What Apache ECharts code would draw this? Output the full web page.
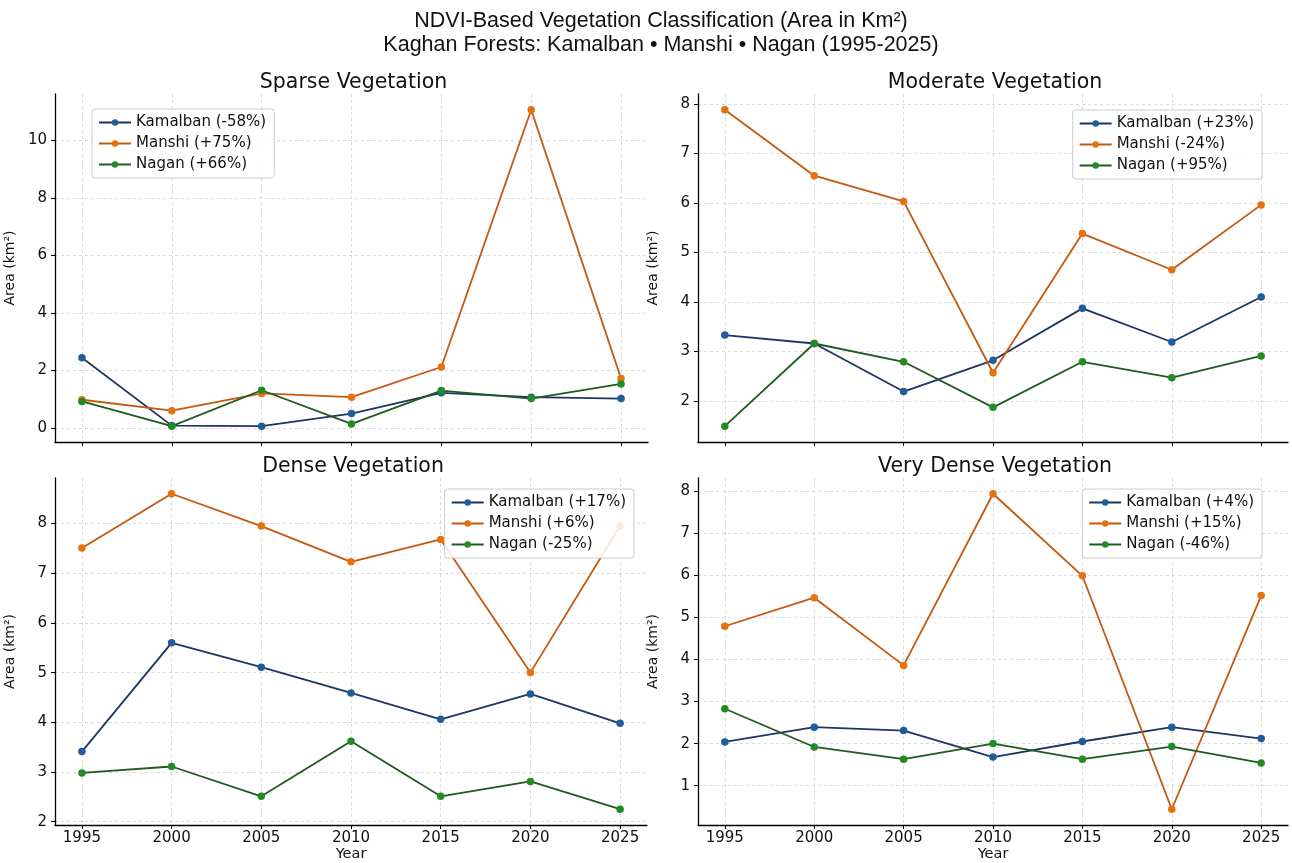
<!DOCTYPE html>
<html lang="en">
<head>
    <meta charset="UTF-8"/>
    <title>NDVI-Based Vegetation Classification</title>
    <script src="https://cdn.jsdelivr.net/npm/echarts@6/dist/echarts.min.js"></script>
    <style>
        body {
            margin: 0;
            background-color: #fff;
        }

        #chart {
            width: 1292px;
            height: 863px;
        }
    </style>
</head>
<body>

<div id="chart"></div>

<script>
    const years = [1995, 2000, 2005, 2010, 2015, 2020, 2025];
    const sites = ['Kamalban', 'Manshi', 'Nagan'];

    // Sparse vegetation (km²)
    const sparseKamalban = [2.44, 0.08, 0.06, 0.50, 1.22, 1.07, 1.02];
    const sparseManshi = [0.98, 0.60, 1.20, 1.07, 2.12, 11.07, 1.72];
    const sparseNagan = [0.92, 0.06, 1.31, 0.14, 1.30, 1.02, 1.53];
    const sparseChange = ['-58%', '+75%', '+66%'];
    const sparseTicks = [0, 2, 4, 6, 8, 10];

    // Moderate vegetation
    const moderateKamalban = [3.33, 3.16, 2.19, 2.82, 3.87, 3.19, 4.10];
    const moderateManshi = [7.88, 6.55, 6.03, 2.57, 5.38, 4.65, 5.96];
    const moderateNagan = [1.49, 3.16, 2.79, 1.87, 2.79, 2.47, 2.91];
    const moderateChange = ['+23%', '-24%', '+95%'];
    const moderateTicks = [2, 3, 4, 5, 6, 7, 8];

    // Dense vegetation
    const denseKamalban = [3.41, 5.60, 5.11, 4.59, 4.06, 4.57, 3.98];
    const denseManshi = [7.51, 8.60, 7.95, 7.23, 7.68, 5.00, 7.95];
    const denseNagan = [2.98, 3.11, 2.51, 3.62, 2.51, 2.81, 2.25];
    const denseChange = ['+17%', '+6%', '-25%'];
    const denseTicks = [2, 3, 4, 5, 6, 7, 8];

    // Very dense vegetation
    const veryDenseKamalban = [2.04, 2.39, 2.31, 1.68, 2.05, 2.39, 2.12];
    const veryDenseManshi = [4.79, 5.47, 3.86, 7.94, 5.99, 0.44, 5.52];
    const veryDenseNagan = [2.83, 1.92, 1.63, 2.00, 1.63, 1.93, 1.54];
    const veryDenseChange = ['+4%', '+15%', '-46%'];
    const veryDenseTicks = [1, 2, 3, 4, 5, 6, 7, 8];

    const lineColors = ['#1d3563', '#c4580f', '#1f5a1f'];
    const markerColors = ['#1f5c99', '#e4720f', '#248a24'];
    const FONT = 'DejaVu Sans';

    const panels = [
        {
            title: 'Sparse Vegetation', values: [sparseKamalban, sparseManshi, sparseNagan],
            change: sparseChange, ticks: sparseTicks,
            grid: {left: 55, top: 94, width: 593, height: 348},
            legend: {left: 92, top: 109}, bottom: false
        },
        {
            title: 'Moderate Vegetation', values: [moderateKamalban, moderateManshi, moderateNagan],
            change: moderateChange, ticks: moderateTicks,
            grid: {left: 698, top: 94, width: 590, height: 348},
            legend: {right: 30, top: 110}, bottom: false
        },
        {
            title: 'Dense Vegetation', values: [denseKamalban, denseManshi, denseNagan],
            change: denseChange, ticks: denseTicks,
            grid: {left: 55, top: 478, width: 592, height: 347},
            legend: {right: 658, top: 489}, bottom: true
        },
        {
            title: 'Very Dense Vegetation', values: [veryDenseKamalban, veryDenseManshi, veryDenseNagan],
            change: veryDenseChange, ticks: veryDenseTicks,
            grid: {left: 698, top: 478, width: 590, height: 347},
            legend: {right: 30, top: 489}, bottom: true
        }
    ];

    // matplotlib style 5% margins
    function paddedRange(arrs) {
        const all = [].concat(...arrs);
        const lo = Math.min(...all), hi = Math.max(...all);
        const m = (hi - lo) * 0.05;
        return [lo - m, hi + m];
    }

    const gridLine = {show: true, lineStyle: {color: '#d9d9d9', type: [3, 3], width: 1}};

    const option = {
        animation: false,
        backgroundColor: '#fff',
        textStyle: {fontFamily: FONT},
        title: [{
            text: 'NDVI-Based Vegetation Classification (Area in Km²)\nKaghan Forests: Kamalban • Manshi • Nagan (1995-2025)',
            left: 656, top: 4, textAlign: 'center',
            textStyle: {fontFamily: 'Liberation Sans', fontSize: 21.5, fontWeight: 'normal', color: '#111', lineHeight: 24}
        }],
        grid: [], xAxis: [], yAxis: [], legend: [], series: []
    };

    panels.forEach((p, i) => {
        const [yMin, yMax] = paddedRange(p.values);
        const centerX = p.grid.left + p.grid.width / 2;
        option.title.push({
            text: p.title, left: centerX - 3, top: p.grid.top - 27, textAlign: 'center',
            textStyle: {fontFamily: FONT, fontSize: 20.5, fontWeight: 'normal', color: '#111'}
        });
        option.grid.push(p.grid);
        option.xAxis.push({
            type: 'value', gridIndex: i, min: 1993.5, max: 2026.5,
            name: p.bottom ? 'Year' : '', nameLocation: 'middle', nameGap: 21,
            nameTextStyle: {fontFamily: FONT, fontSize: 14.5, color: '#111'},
            axisLine: {onZero: false, lineStyle: {color: '#000', width: 1.3}},
            axisTick: {show: true, inside: false, length: 4, customValues: years, lineStyle: {color: '#000'}},
            axisLabel: {
                show: p.bottom, customValues: years, margin: 6,
                formatter: v => String(v),
                fontFamily: FONT, fontSize: 15, color: '#111'
            },
            splitLine: gridLine
        });
        option.yAxis.push({
            type: 'value', gridIndex: i, min: yMin, max: yMax,
            name: 'Area (km²)', nameLocation: 'middle', nameGap: 38,
            nameTextStyle: {fontFamily: FONT, fontSize: 14, color: '#111'},
            axisLine: {show: true, onZero: false, lineStyle: {color: '#000', width: 1.3}},
            axisTick: {show: true, inside: false, length: 4, customValues: p.ticks, lineStyle: {color: '#000'}},
            axisLabel: {customValues: p.ticks, margin: 8, fontFamily: FONT, fontSize: 15, color: '#111'},
            splitLine: gridLine
        });
        const names = sites.map((s, k) => `${s} (${p.change[k]})`);
        option.legend.push(Object.assign({
            orient: 'vertical',
            data: names,
            itemWidth: 32, itemHeight: 8, itemGap: 6,
            padding: [6, 8, 6, 6],
            backgroundColor: 'rgba(255,255,255,0.85)',
            borderColor: '#cccccc', borderWidth: 1, borderRadius: 3,
            textStyle: {fontFamily: FONT, fontSize: 15, color: '#111'}
        }, p.legend));
        sites.forEach((s, k) => {
            option.series.push({
                name: names[k], type: 'line',
                xAxisIndex: i, yAxisIndex: i,
                data: years.map((y, j) => [y, p.values[k][j]]),
                symbol: 'circle', symbolSize: 7.5,
                lineStyle: {color: lineColors[k], width: 1.8},
                itemStyle: {color: markerColors[k], borderColor: markerColors[k], borderWidth: 0}
            });
        });
    });

    const chart = echarts.init(document.getElementById('chart'));
    chart.setOption(option);
</script>

</body>
</html>
